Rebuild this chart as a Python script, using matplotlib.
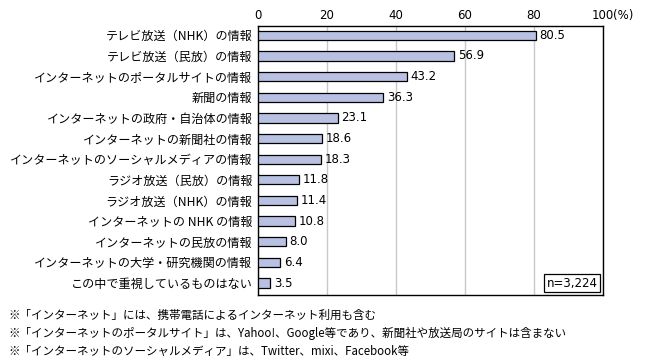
import matplotlib
matplotlib.use("Agg")
import matplotlib.pyplot as plt

plt.rcParams['font.family'] = ['Noto Sans CJK JP', 'DejaVu Sans']

categories = ["テレビ放送（NHK）の情報", "テレビ放送（民放）の情報", "インターネットのポータルサイトの情報",
              "新聞の情報", "インターネットの政府・自治体の情報", "インターネットの新聞社の情報",
              "インターネットのソーシャルメディアの情報", "ラジオ放送（民放）の情報", "ラジオ放送（NHK）の情報",
              "インターネットの NHK の情報", "インターネットの民放の情報", "インターネットの大学・研究機関の情報",
              "この中で重視しているものはない"]
values = [80.5, 56.9, 43.2, 36.3, 23.1, 18.6, 18.3, 11.8, 11.4, 10.8, 8.0, 6.4, 3.5]
xticks = [0, 20, 40, 60, 80, 100]
xticklabels = ["0", "20", "40", "60", "80", "100"]
sample_note = "n=3,224"
footnotes = ["※「インターネット」には、携帯電話によるインターネット利用も含む",
             "※「インターネットのポータルサイト」は、Yahoo!、Google等であり、新聞社や放送局のサイトは含まない",
             "※「インターネットのソーシャルメディア」は、Twitter、mixi、Facebook等"]

W, H = 650, 362
fig = plt.figure(figsize=(W / 100, H / 100), dpi=100)
left, right, top, bottom = 258, 603, 26, 295
ax = fig.add_axes([left / W, 1 - bottom / H, (right - left) / W, (bottom - top) / H])

y = list(range(len(categories)))
ax.barh(y, values, height=0.45, color="#B8C1E2", edgecolor="black", linewidth=0.9, zorder=3)
for yi, v in zip(y, values):
    ax.text(v + 1.1, yi, f"{v:.1f}", va="center", ha="left", fontsize=8.5, family=['DejaVu Sans'])

ax.set_xlim(0, 100)
ax.set_ylim(len(categories) - 0.42, -0.45)
ax.set_yticks(y)
ax.set_yticklabels(categories, fontsize=8.7)
ax.set_xticks(xticks)
ax.set_xticklabels(xticklabels, fontsize=8.5, family=['DejaVu Sans'])
ax.xaxis.tick_top()
ax.tick_params(axis='both', length=0, pad=4)
ax.tick_params(axis='x', pad=3)
ax.grid(axis='x', color="#C8C8C8", linewidth=1.0, zorder=0)
for s in ax.spines.values():
    s.set_color("black")
    s.set_linewidth(1.0)

ax.annotate("(%)", xy=(100, 1.0), xycoords=ax.get_xaxis_transform(), xytext=(7.5, 3),
            textcoords="offset points", ha="left", va="bottom", fontsize=8.5, family=['DejaVu Sans'])
ax.text(98.5, len(categories) - 1, sample_note, ha="right", va="center", fontsize=8.5,
        family=['DejaVu Sans'], zorder=5,
        bbox=dict(boxstyle="square,pad=0.2", facecolor="white", edgecolor="black", linewidth=0.9))

for i, t in enumerate(footnotes):
    fig.text(8 / W, 1 - (315 + i * 18) / H, t, ha="left", va="center", fontsize=8.3)

fig.savefig("out.png", dpi=100)
